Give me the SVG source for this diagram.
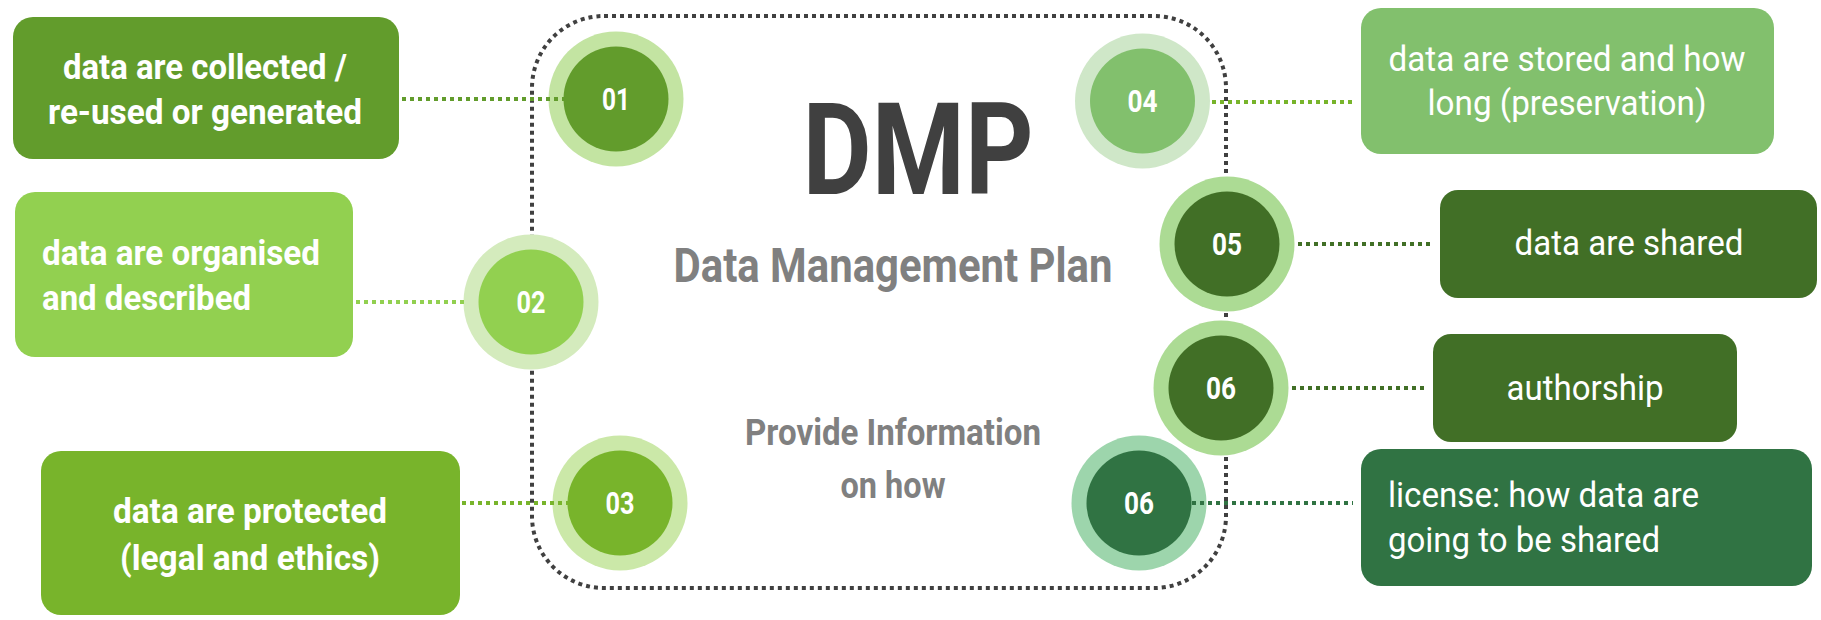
<svg xmlns="http://www.w3.org/2000/svg" width="1821" height="620" viewBox="0 0 1821 620">
<style>
.box{stroke:none}
.t{font-family:Roboto,"Liberation Sans",sans-serif;fill:#ffffff;font-size:35px}
.b{font-weight:bold}
.n{font-family:Roboto,"Liberation Sans",sans-serif;fill:#ffffff;font-size:32px;font-weight:bold;text-anchor:middle}
.c{text-anchor:middle}
.frame{fill:none;stroke:#404040;stroke-width:4;stroke-dasharray:4 4}
.con{fill:none;stroke-width:4;stroke-dasharray:4 4}
.title{font-family:Roboto,"Liberation Sans",sans-serif;font-weight:bold;text-anchor:middle}
</style>
<rect width="1821" height="620" fill="#ffffff"/>
<g id="frame"><rect class="frame" x="532" y="16" width="694" height="572" rx="72"/></g>
<g id="center-text">
<text class="title" x="918" y="194" font-size="128" fill="#404040" textLength="231" lengthAdjust="spacingAndGlyphs">DMP</text>
<text class="title" x="893" y="282" font-size="49" fill="#808080" textLength="439" lengthAdjust="spacingAndGlyphs">Data Management Plan</text>
<text class="title" x="893" y="445" font-size="37" fill="#808080" textLength="296" lengthAdjust="spacingAndGlyphs">Provide Information</text>
<text class="title" x="893" y="498" font-size="37" fill="#808080" textLength="105" lengthAdjust="spacingAndGlyphs">on how</text>
</g>
<g id="box1"><rect class="box" x="13" y="17" width="386" height="142" rx="20" fill="#629c2c"/>
<text class="t b c" x="205" y="79" font-size="36" textLength="284" lengthAdjust="spacingAndGlyphs">data are collected /</text>
<text class="t b c" x="205" y="124" font-size="36" textLength="314" lengthAdjust="spacingAndGlyphs">re-used or generated</text></g>
<g id="box2"><rect class="box" x="15" y="192" width="338" height="165" rx="20" fill="#92d050"/>
<text class="t b" x="42" y="265" font-size="36" textLength="278" lengthAdjust="spacingAndGlyphs">data are organised</text>
<text class="t b" x="42" y="310" font-size="36" textLength="209" lengthAdjust="spacingAndGlyphs">and described</text></g>
<g id="box3"><rect class="box" x="41" y="451" width="419" height="164" rx="20" fill="#78b42b"/>
<text class="t b c" x="250" y="523" font-size="36" textLength="274" lengthAdjust="spacingAndGlyphs">data are protected</text>
<text class="t b c" x="250" y="570" font-size="36" textLength="260" lengthAdjust="spacingAndGlyphs">(legal and ethics)</text></g>
<g id="box4"><rect class="box" x="1361" y="8" width="413" height="146" rx="20" fill="#82c06d"/>
<text class="t c" x="1567" y="71" textLength="357" lengthAdjust="spacingAndGlyphs">data are stored and how</text>
<text class="t c" x="1567" y="115" textLength="279" lengthAdjust="spacingAndGlyphs">long (preservation)</text></g>
<g id="box5"><rect class="box" x="1440" y="190" width="377" height="108" rx="18" fill="#416f26"/>
<text class="t c" x="1629" y="255" textLength="229" lengthAdjust="spacingAndGlyphs">data are shared</text></g>
<g id="box6"><rect class="box" x="1433" y="334" width="304" height="108" rx="18" fill="#416f26"/>
<text class="t c" x="1585" y="400" textLength="157" lengthAdjust="spacingAndGlyphs">authorship</text></g>
<g id="box7"><rect class="box" x="1361" y="449" width="451" height="137" rx="20" fill="#307343"/>
<text class="t" x="1388" y="507" textLength="311" lengthAdjust="spacingAndGlyphs">license: how data are</text>
<text class="t" x="1388" y="552" textLength="272" lengthAdjust="spacingAndGlyphs">going to be shared</text></g>
<g id="circle01"><circle cx="616" cy="99" r="67.5" fill="#c3e4a2"/><circle cx="616" cy="99" r="52.5" fill="#629c2c"/><text class="n" x="616" y="110" textLength="28" lengthAdjust="spacingAndGlyphs">01</text></g>
<g id="circle02"><circle cx="531" cy="302" r="67.5" fill="#d4ebbd"/><circle cx="531" cy="302" r="52.5" fill="#92d050"/><text class="n" x="531" y="313" textLength="29" lengthAdjust="spacingAndGlyphs">02</text></g>
<g id="circle03"><circle cx="620" cy="503" r="67.5" fill="#cbe8a8"/><circle cx="620" cy="503" r="52.5" fill="#78b42b"/><text class="n" x="620" y="514" textLength="29" lengthAdjust="spacingAndGlyphs">03</text></g>
<g id="circle04"><circle cx="1142.5" cy="101" r="67.5" fill="#cfe7c8"/><circle cx="1142.5" cy="101" r="52.5" fill="#82c06d"/><text class="n" x="1142.5" y="112" textLength="30" lengthAdjust="spacingAndGlyphs">04</text></g>
<g id="circle05"><circle cx="1227" cy="244" r="67.5" fill="#acdb94"/><circle cx="1227" cy="244" r="52.5" fill="#416f26"/><text class="n" x="1227" y="255" textLength="30" lengthAdjust="spacingAndGlyphs">05</text></g>
<g id="circle06a"><circle cx="1221" cy="388" r="67.5" fill="#acdb94"/><circle cx="1221" cy="388" r="52.5" fill="#416f26"/><text class="n" x="1221" y="399" textLength="30" lengthAdjust="spacingAndGlyphs">06</text></g>
<g id="circle06b"><circle cx="1139" cy="503" r="67.5" fill="#9dd5ac"/><circle cx="1139" cy="503" r="52.5" fill="#307343"/><text class="n" x="1139" y="514" textLength="30" lengthAdjust="spacingAndGlyphs">06</text></g>
<g id="connectors">
<line class="con" x1="402" y1="99" x2="564" y2="99" stroke="#629c2c"/>
<line class="con" x1="356" y1="302" x2="464" y2="302" stroke="#92d050"/>
<line class="con" x1="462" y1="503" x2="568" y2="503" stroke="#78b42b"/>
<line class="con" x1="1212" y1="102" x2="1354" y2="102" stroke="#78b42b"/>
<line class="con" x1="1298" y1="244" x2="1432" y2="244" stroke="#416f26"/>
<line class="con" x1="1292" y1="388" x2="1426" y2="388" stroke="#416f26"/>
<line class="con" x1="1192" y1="503" x2="1353" y2="503" stroke="#307343"/>
</g>
</svg>
